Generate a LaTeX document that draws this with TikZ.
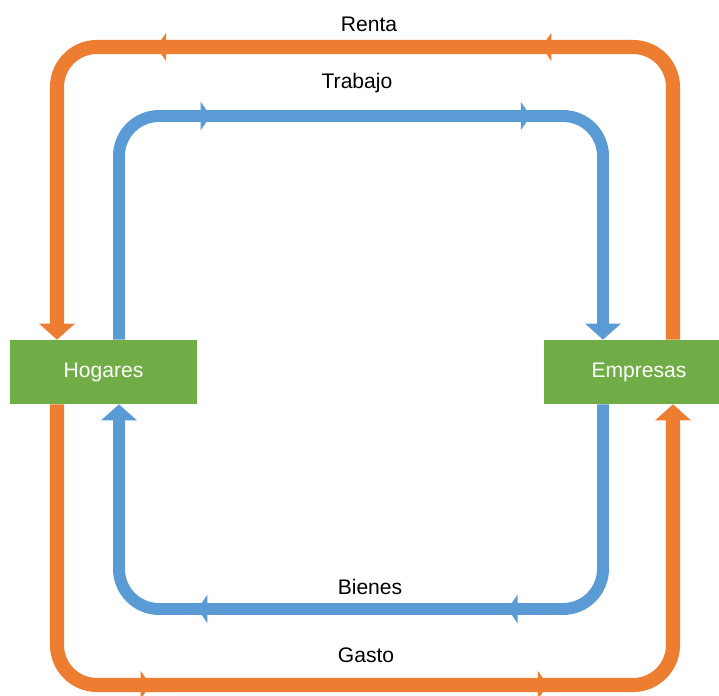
\documentclass[tikz,border=0pt]{standalone}
\usepackage{fontspec}
\setmainfont{Liberation Sans}
\usepackage{xcolor}
\usetikzlibrary{arrows.meta,decorations.markings}

\definecolor{naranja}{HTML}{ED7D31}
\definecolor{azul}{HTML}{5B9BD5}
\definecolor{verde}{HTML}{70AD47}

\begin{document}
\begin{tikzpicture}[x=0.025cm,y=-0.025cm,
		sector/.style={fill=verde,text=white,minimum height=1.6cm,inner sep=0pt,
			font=\fontsize{15}{18}\selectfont},
		etiqueta/.style={font=\fontsize{15}{18}\selectfont},
		flujo/.style={rounded corners=1cm,-{Triangle[length=11.5pt,width=25pt]}},
		monetario/.style={flujo,draw=naranja,line width=10pt},
		real/.style={flujo,draw=azul,line width=8.5pt},
		marcas/.style 2 args={postaction={decorate},decoration={markings,
			mark=at position #1 with {\arrow{Triangle[length=7pt,width=20pt]}},
			mark=at position #2 with {\arrow{Triangle[length=7pt,width=20pt]}}}}]
	\useasboundingbox (0,0) rectangle (719,696);

	% sectores
	\node[sector,minimum width=4.675cm] (hogares) at (103.5,372) {Hogares};
	\node[sector,minimum width=4.75cm] (empresas) at (639,372) {Empresas};

	% esquinas de los circuitos
	\coordinate (oTL) at (57,47);
	\coordinate (oTR) at (673,47);
	\coordinate (oBL) at (57,685);
	\coordinate (oBR) at (673,685);
	\coordinate (bTL) at (119,116);
	\coordinate (bTR) at (603,116);
	\coordinate (bBL) at (119,609);
	\coordinate (bBR) at (603,609);

	% flujo monetario
	\draw[monetario,marcas={10.17cm}{19.8cm}]
		(empresas.north -| oTR) -- (oTR) -- (oTL) -- (hogares.north -| oTL);
	\draw[monetario,marcas={8.92cm}{18.85cm}]
		(hogares.south -| oBL) -- (oBL) -- (oBR) -- (empresas.south -| oBR);

	% flujo real
	\draw[real,marcas={7.45cm}{15.45cm}]
		(hogares.north -| bTL) -- (bTL) -- (bTR) -- (empresas.north -| bTR);
	\draw[real,marcas={7.07cm}{14.82cm}]
		(empresas.south -| bBR) -- (bBR) -- (bBL) -- (hogares.south -| bBL);

	% etiquetas
	\node[etiqueta] (renta) at (369,24) {Renta};
	\node[etiqueta] (trabajo) at (357,83) {Trabajo};
	\node[etiqueta] (bienes) at (370,587) {Bienes};
	\node[etiqueta] (gasto) at (366,655) {Gasto};
\end{tikzpicture}
\end{document}
